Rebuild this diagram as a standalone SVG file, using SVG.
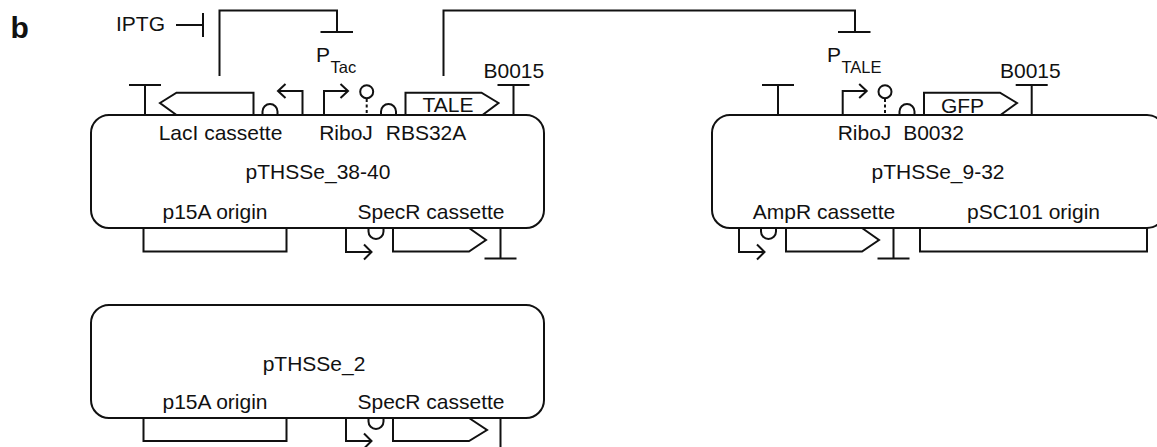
<svg xmlns="http://www.w3.org/2000/svg" width="1157" height="447" viewBox="0 0 1157 447">
<style>
.l{fill:none;stroke:#111;stroke-width:2}
.d{fill:none;stroke:#111;stroke-width:2;stroke-dasharray:3 2.5}
text{font-family:"Liberation Sans",Arial,sans-serif;font-size:21px;fill:#111}
.m{text-anchor:middle}
.s{font-size:16.500px}
</style>
<defs>
<path id="termUp" class="l" d="M0 0V-30M-16 -30H16"/>
<path id="termDown" class="l" d="M0 0V30.500M-16 30.500H16"/>
<path id="rbsUp" class="l" d="M-7.500 0V-3.500A7.500 7.500 0 0 1 7.500 -3.500V0"/>
<path id="rbsDown" class="l" d="M-7.500 0V3.500A7.500 7.500 0 0 0 7.500 3.500V0"/>
<path id="promUp" class="l" d="M0 0V-24H24M16.500 -31L24 -24L16.500 -17"/>
<path id="promDown" class="l" d="M0 0V24H25M18 16.500L25.500 24L18 31.500"/>
<g id="ribo"><circle class="l" cx="0" cy="-23.300" r="6.500"/><path class="d" d="M0 -16V0"/></g>
</defs>
<rect width="1157" height="447" fill="#fff"/>
<text x="10.500" y="38" style="font-weight:bold;font-size:30px">b</text>
<g id="connectors">
<path class="l" d="M219.500 76V10.500H337V32M320.500 32H353"/>
<path class="l" d="M443.500 76V10.500H855V32M838 32H870.500"/>
<path class="l" d="M176 25H203M203 13V37"/>
</g>
<g id="iptg"><text x="116" y="31">IPTG</text></g>
<g id="ptac"><text x="316" y="62">P</text><text class="s" x="330.500" y="72.500">Tac</text></g>
<g id="ptale"><text x="827" y="62">P</text><text class="s" x="841.500" y="72.500">TALE</text></g>
<g id="plasmid-38-40">
<rect class="l" x="91" y="115" width="453" height="113" rx="18"/>
<use href="#termUp" x="145" y="115"/>
<path class="l" d="M253.500 115V92.700H176.500L160 103L176.500 115"/>
<use href="#rbsUp" x="270" y="115"/>
<path class="l" d="M302.500 115V91H278M285.500 84L278 91L285.500 98"/>
<use href="#promUp" x="324" y="115"/>
<use href="#ribo" x="366.700" y="115"/>
<use href="#rbsUp" x="388.500" y="115"/>
<path class="l" d="M405.500 115V92.700H481.500L498.500 103L482.500 115"/>
<use href="#termUp" x="513.500" y="115"/>
<text class="m" x="448" y="112">TALE</text>
<text x="483.500" y="78">B0015</text>
<text class="m" x="220.500" y="140">LacI cassette</text>
<text class="m" x="346" y="140">RiboJ</text>
<text class="m" x="426" y="140">RBS32A</text>
<text class="m" x="318" y="179">pTHSSe_38-40</text>
<text class="m" x="215" y="219">p15A origin</text>
<text class="m" x="431" y="219">SpecR cassette</text>
<path class="l" d="M143.500 228V251.500H286.500V228"/>
<use href="#promDown" x="346" y="228"/>
<use href="#rbsDown" x="376" y="228"/>
<path class="l" d="M393 228V251.500H469L486 240L469 228"/>
<use href="#termDown" x="500.500" y="228"/>
</g>
<g id="plasmid-9-32">
<rect class="l" x="712" y="115" width="453" height="113" rx="18"/>
<use href="#termUp" x="778" y="115"/>
<use href="#promUp" x="842.700" y="115"/>
<use href="#ribo" x="885" y="115"/>
<use href="#rbsUp" x="907" y="115"/>
<path class="l" d="M924 115V92.700H1000L1017 103L1000.500 115"/>
<use href="#termUp" x="1031.700" y="115"/>
<text class="m" x="962.500" y="112.500">GFP</text>
<text x="1000" y="78">B0015</text>
<text class="m" x="864.500" y="140">RiboJ</text>
<text class="m" x="933.500" y="140">B0032</text>
<text class="m" x="938" y="179">pTHSSe_9-32</text>
<text class="m" x="824" y="219">AmpR cassette</text>
<text class="m" x="1033.500" y="219">pSC101 origin</text>
<use href="#promDown" x="739" y="228"/>
<use href="#rbsDown" x="768.500" y="228"/>
<path class="l" d="M786 228V251.500H862L879 240L862 228"/>
<use href="#termDown" x="893.500" y="228"/>
<path class="l" d="M920 228V251.500H1147V228"/>
</g>
<g id="plasmid-2">
<rect class="l" x="91" y="305" width="453" height="113" rx="18"/>
<text class="m" x="314" y="371">pTHSSe_2</text>
<text class="m" x="215" y="409">p15A origin</text>
<text class="m" x="431" y="409">SpecR cassette</text>
<path class="l" d="M143.500 418V441H286.500V418"/>
<use href="#promDown" x="346" y="417"/>
<use href="#rbsDown" x="376" y="418"/>
<path class="l" d="M393 418V441H469L487 430L469 418"/>
<path class="l" d="M500.500 418V447"/>
</g>
</svg>
